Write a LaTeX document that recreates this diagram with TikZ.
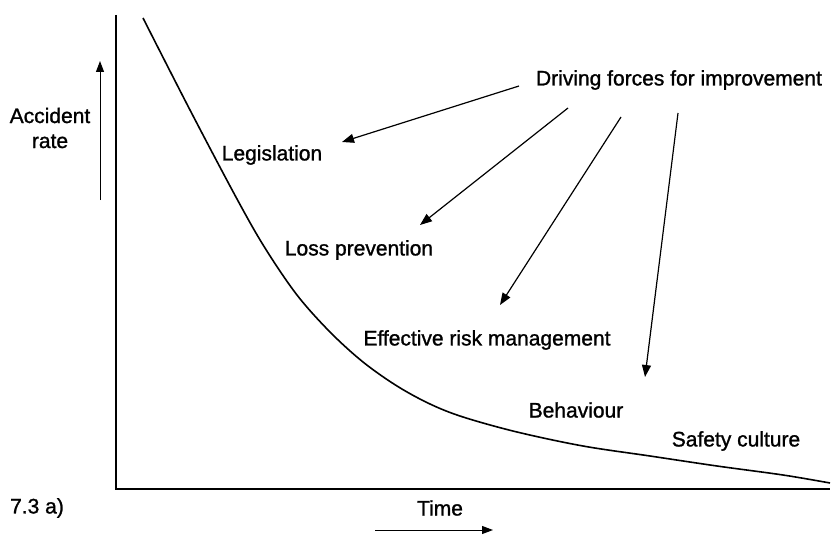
\documentclass[tikz,border=0pt]{standalone}
\usepackage{fontspec}
\setmainfont{Liberation Sans}[FakeBold=1.2]
\usetikzlibrary{arrows.meta}
\tikzset{
  axisline/.style={line width=1.8pt},
  trend/.style={line width=1.6pt,line join=round},
  force/.style={line width=1.2pt,-{Triangle[length=12pt,width=9pt]}},
  dirarrow/.style={line width=1pt,-{Triangle[length=11pt,width=8pt]}},
  lbl/.style={inner sep=0pt,font=\fontsize{21}{25}\selectfont}
}
\begin{document}
\begin{tikzpicture}[x=1pt,y=-1pt]
\useasboundingbox (0,0) rectangle (837,540);

% axes
\coordinate (ytop) at (116,15);
\coordinate (origin) at (116,489);
\coordinate (xend) at (830,489);
\draw[axisline] (ytop) -- (origin) -- (xend);

% axis direction arrows
\coordinate (yarrA) at (100,200);
\coordinate (yarrB) at (100,61);
\draw[dirarrow] (yarrA) -- (yarrB);
\coordinate (xarrA) at (375,530);
\coordinate (xarrB) at (493,530);
\draw[dirarrow] (xarrA) -- (xarrB);

% accident rate curve
\draw[trend] plot[smooth,tension=0.55] coordinates {
  (143,18) (190,110) (237,199) (265,248) (297,295) (330,332)
  (363,362) (397,386) (430,404) (463,417) (517,432) (583,446)
  (650,456) (717,466) (783,475) (830,483)};

% labels
\node[lbl,align=center] (yl) at (50,128) {Accident\\rate};
\node[lbl] (xl) at (440,508) {Time};
\node[lbl] (fig) at (37,508) {7.3 a)};
\node[lbl] (drive) at (679,80) {Driving forces for improvement};
\node[lbl] (leg) at (272,155) {Legislation};
\node[lbl] (loss) at (359,250) {Loss prevention};
\node[lbl] (erm) at (487,340) {Effective risk management};
\node[lbl] (beh) at (576,410) {Behaviour};
\node[lbl] (safe) at (736,441) {Safety culture};

% driving-force arrows
\coordinate (f1a) at (519,86);   \coordinate (f1b) at (342,142);
\coordinate (f2a) at (568,108);  \coordinate (f2b) at (420,225);
\coordinate (f3a) at (621,117);  \coordinate (f3b) at (500,305);
\coordinate (f4a) at (678,113);  \coordinate (f4b) at (645,377);
\draw[force] (f1a) -- (f1b);
\draw[force] (f2a) -- (f2b);
\draw[force] (f3a) -- (f3b);
\draw[force] (f4a) -- (f4b);
\end{tikzpicture}
\end{document}
